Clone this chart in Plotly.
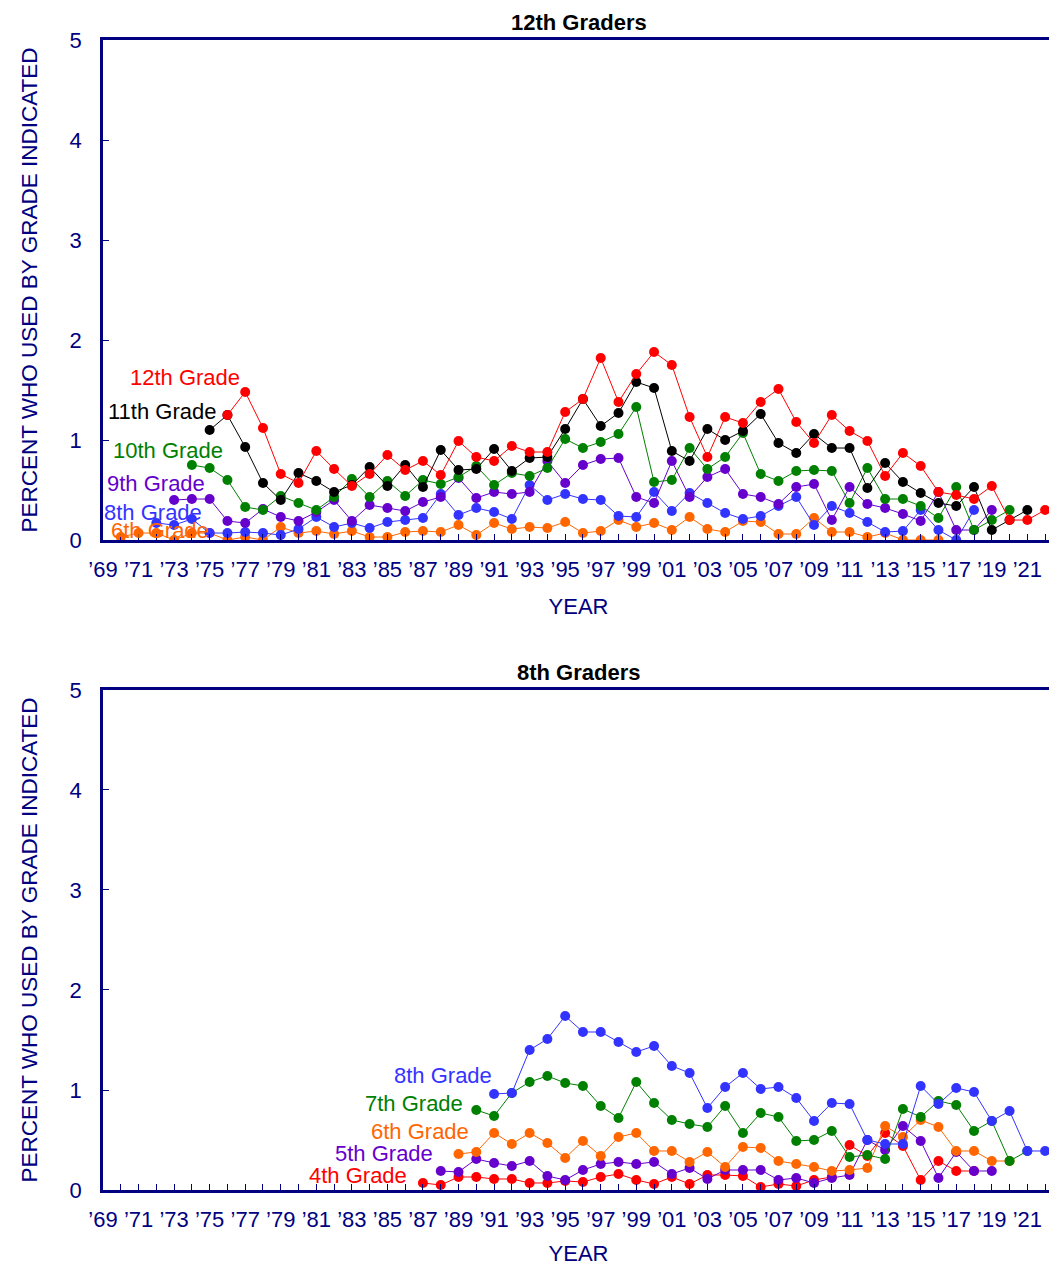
import plotly.graph_objects as go

# ---- 12th graders: year of first use, by grade ----
years_g12 = list(range(1976, 2023))
g12 = [1.25, 1.48, 1.12, 0.66, 0.57, 0.89, 0.71, 0.54, 0.66, 0.85,
       0.70, 0.79, 0.65, 0.99, 0.83, 0.79, 0.94, 0.88, 0.88, 1.28,
       1.41, 1.82, 1.38, 1.66, 1.88, 1.75, 1.23, 0.83, 1.23, 1.17,
       1.38, 1.51, 1.18, 0.97, 1.25, 1.09, 0.99, 0.64, 0.87, 0.74,
       0.48, 0.45, 0.41, 0.54, 0.20, 0.20, 0.30]
years_g11 = list(range(1975, 2022))
g11 = [1.10, 1.25, 0.93, 0.57, 0.40, 0.67, 0.59, 0.48, 0.55, 0.73,
       0.54, 0.75, 0.53, 0.90, 0.70, 0.71, 0.91, 0.69, 0.82, 0.83,
       1.11, 1.41, 1.14, 1.27, 1.58, 1.52, 0.89, 0.79, 1.11, 1.00,
       1.09, 1.26, 0.97, 0.87, 1.06, 0.92, 0.92, 0.52, 0.77, 0.58,
       0.47, 0.37, 0.34, 0.53, 0.10, 0.20, 0.30]
years_g10 = list(range(1974, 2021))
g10 = [0.75, 0.72, 0.60, 0.33, 0.30, 0.44, 0.37, 0.30, 0.43, 0.61,
       0.43, 0.59, 0.44, 0.60, 0.56, 0.63, 0.74, 0.55, 0.67, 0.64,
       0.72, 1.01, 0.92, 0.98, 1.06, 1.33, 0.58, 0.60, 0.92, 0.71,
       0.83, 1.07, 0.66, 0.59, 0.69, 0.70, 0.69, 0.37, 0.72, 0.41,
       0.41, 0.34, 0.22, 0.53, 0.10, 0.20, 0.30]
years_g9 = list(range(1973, 2020))
g9 = [0.40, 0.41, 0.41, 0.19, 0.17, 0.31, 0.23, 0.19, 0.28, 0.40,
      0.19, 0.35, 0.32, 0.29, 0.38, 0.43, 0.62, 0.42, 0.48, 0.46,
      0.48, 0.79, 0.57, 0.75, 0.81, 0.82, 0.43, 0.37, 0.79, 0.43,
      0.63, 0.71, 0.46, 0.43, 0.36, 0.53, 0.56, 0.20, 0.53, 0.36,
      0.32, 0.26, 0.19, 0.48, 0.10, 0.10, 0.30]
years_g8 = list(range(1972, 2019))
g8 = [0.17, 0.15, 0.21, 0.07, 0.07, 0.08, 0.07, 0.05, 0.11, 0.23,
      0.13, 0.17, 0.12, 0.18, 0.20, 0.22, 0.46, 0.25, 0.32, 0.28,
      0.21, 0.55, 0.40, 0.46, 0.41, 0.40, 0.24, 0.23, 0.48, 0.29,
      0.47, 0.37, 0.27, 0.21, 0.24, 0.34, 0.43, 0.15, 0.34, 0.27,
      0.18, 0.08, 0.09, 0.30, 0.10, 0.00, 0.30]
years_g6 = list(range(1970, 2017))
g6 = [0.03, 0.07, 0.07, 0.00, 0.07, 0.07, 0.00, 0.03, 0.00, 0.13,
      0.07, 0.09, 0.06, 0.09, 0.03, 0.03, 0.08, 0.09, 0.08, 0.15,
      0.05, 0.17, 0.11, 0.13, 0.12, 0.18, 0.07, 0.09, 0.20, 0.13,
      0.17, 0.10, 0.23, 0.11, 0.08, 0.19, 0.18, 0.06, 0.06, 0.22,
      0.08, 0.08, 0.03, 0.07, 0.00, 0.00, 0.00]

# ---- 8th graders ----
years_b8 = list(range(1991, 2023))
b8 = [0.96, 0.97, 1.40, 1.51, 1.74, 1.58, 1.58, 1.48, 1.38, 1.44,
      1.24, 1.17, 0.82, 1.03, 1.17, 1.01, 1.03, 0.92, 0.69, 0.87,
      0.86, 0.50, 0.46, 0.46, 1.04, 0.86, 1.02, 0.98, 0.69, 0.79,
      0.39, 0.39]
years_b7 = list(range(1990, 2022))
b7 = [0.80, 0.74, 0.97, 1.08, 1.14, 1.07, 1.04, 0.84, 0.72, 1.08,
      0.87, 0.70, 0.66, 0.63, 0.84, 0.57, 0.77, 0.73, 0.49, 0.50,
      0.59, 0.33, 0.35, 0.31, 0.81, 0.73, 0.89, 0.85, 0.59, 0.69,
      0.29, 0.39]
years_b6 = list(range(1989, 2021))
b6 = [0.36, 0.38, 0.57, 0.46, 0.57, 0.47, 0.32, 0.49, 0.34, 0.53,
      0.57, 0.39, 0.39, 0.28, 0.38, 0.23, 0.43, 0.42, 0.29, 0.26,
      0.23, 0.19, 0.20, 0.22, 0.64, 0.53, 0.70, 0.63, 0.39, 0.39,
      0.29, 0.29]
years_b5 = list(range(1988, 2020))
b5 = [0.19, 0.18, 0.31, 0.27, 0.24, 0.29, 0.14, 0.10, 0.20, 0.26,
      0.28, 0.26, 0.28, 0.16, 0.22, 0.11, 0.20, 0.20, 0.20, 0.10,
      0.12, 0.07, 0.12, 0.15, 0.50, 0.40, 0.64, 0.49, 0.12, 0.38,
      0.19, 0.19]
years_b4 = list(range(1987, 2019))
b4 = [0.07, 0.05, 0.13, 0.13, 0.11, 0.11, 0.07, 0.07, 0.09, 0.08,
      0.13, 0.16, 0.10, 0.06, 0.13, 0.06, 0.15, 0.15, 0.14, 0.03,
      0.06, 0.04, 0.10, 0.13, 0.45, 0.34, 0.57, 0.44, 0.10, 0.29,
      0.19, 0.19]

tick_years = list(range(1969, 2022, 2))
tick_text = ["\u2019" + str(y)[2:] for y in tick_years]

RED = "#FF0000"
BLACK = "#000000"
GREEN = "#008000"
PURPLE = "#6600CC"
BLUE = "#3333FF"
ORANGE = "#FF6600"
NAVY = "#000080"
FONT = "Liberation Sans, Arial, sans-serif"


def series(x, y, color, xa, ya):
    return go.Scatter(x=x, y=y, mode="lines+markers", xaxis=xa, yaxis=ya,
                      line=dict(color=color, width=1),
                      marker=dict(color=color, size=10), showlegend=False)


fig = go.Figure()
# top panel, drawn bottom to top
for x, y, c in [(years_g6, g6, ORANGE), (years_g8, g8, BLUE), (years_g9, g9, PURPLE),
                (years_g10, g10, GREEN), (years_g11, g11, BLACK), (years_g12, g12, RED)]:
    fig.add_trace(series(x, y, c, "x", "y"))
# bottom panel
for x, y, c in [(years_b4, b4, RED), (years_b5, b5, PURPLE), (years_b6, b6, ORANGE),
                (years_b7, b7, GREEN), (years_b8, b8, BLUE)]:
    fig.add_trace(series(x, y, c, "x2", "y2"))

xaxis_style = dict(
    range=[1969, 2022.5], tickmode="array", tickvals=tick_years, ticktext=tick_text,
    ticks="inside", ticklen=6, tickcolor=NAVY, tickwidth=1,
    minor=dict(ticks="inside", dtick=1, tick0=1969, ticklen=6, tickcolor=NAVY),
    showline=True, linecolor=NAVY, linewidth=2.5, mirror=True,
    showgrid=False, zeroline=False, ticklabelstandoff=8,
    tickfont=dict(size=22, color=NAVY, family=FONT),
    title=dict(text="YEAR", font=dict(size=22, color=NAVY, family=FONT), standoff=18),
)
yaxis_style = dict(
    range=[0, 5], dtick=1, ticks="inside", ticklen=6, tickcolor=NAVY,
    showline=True, linecolor=NAVY, linewidth=2.5, mirror=True,
    showgrid=False, zeroline=False, ticklabelstandoff=14,
    tickfont=dict(size=22, color=NAVY, family=FONT),
    title=dict(text="PERCENT WHO USED BY GRADE INDICATED",
               font=dict(size=22.5, color=NAVY, family=FONT), standoff=26),
)

# page body adds an 8px margin, so the figure is sized to end at the window edge
fig.update_layout(
    width=1049, height=1258,
    paper_bgcolor="white", plot_bgcolor="white",
    margin=dict(l=95, r=0, t=32, b=76),
    font=dict(family=FONT, color=NAVY),
    xaxis=dict(xaxis_style, domain=[0, 1], anchor="y"),
    yaxis=dict(yaxis_style, domain=[0.5652, 1], anchor="x"),
    xaxis2=dict(xaxis_style, domain=[0, 1], anchor="y2"),
    yaxis2=dict(yaxis_style, domain=[0, 0.4348], anchor="x2"),
)

# panel titles
fig.add_annotation(text="<b>12th Graders</b>", xref="paper", yref="paper", x=0.5, y=1,
                   yanchor="bottom", yshift=3, showarrow=False,
                   font=dict(size=22, color=BLACK, family=FONT))
fig.add_annotation(text="<b>8th Graders</b>", xref="paper", yref="paper", x=0.5, y=0.4348,
                   yanchor="bottom", yshift=3, showarrow=False,
                   font=dict(size=22, color=BLACK, family=FONT))

# grade labels, top panel
top_labels = [("12th Grade", 1976.8, 1.63, RED), ("11th Grade", 1975.45, 1.29, BLACK),
              ("10th Grade", 1975.85, 0.90, GREEN), ("9th Grade", 1974.85, 0.57, PURPLE),
              ("8th Grade", 1974.7, 0.28, BLUE), ("6th Grade", 1975.1, 0.10, ORANGE)]
for t, x, y, c in top_labels:
    fig.add_annotation(text=t, x=x, y=y, xref="x", yref="y", xanchor="right",
                       showarrow=False, font=dict(size=22, color=c, family=FONT))

bottom_labels = [("8th Grade", 1991.0, 1.15, BLUE), ("7th Grade", 1989.35, 0.87, GREEN),
                 ("6th Grade", 1989.7, 0.59, ORANGE), ("5th Grade", 1987.7, 0.37, PURPLE),
                 ("4th Grade", 1986.2, 0.15, RED)]
for t, x, y, c in bottom_labels:
    fig.add_annotation(text=t, x=x, y=y, xref="x2", yref="y2", xanchor="right",
                       showarrow=False, font=dict(size=22, color=c, family=FONT))

fig.write_html("out.html")
